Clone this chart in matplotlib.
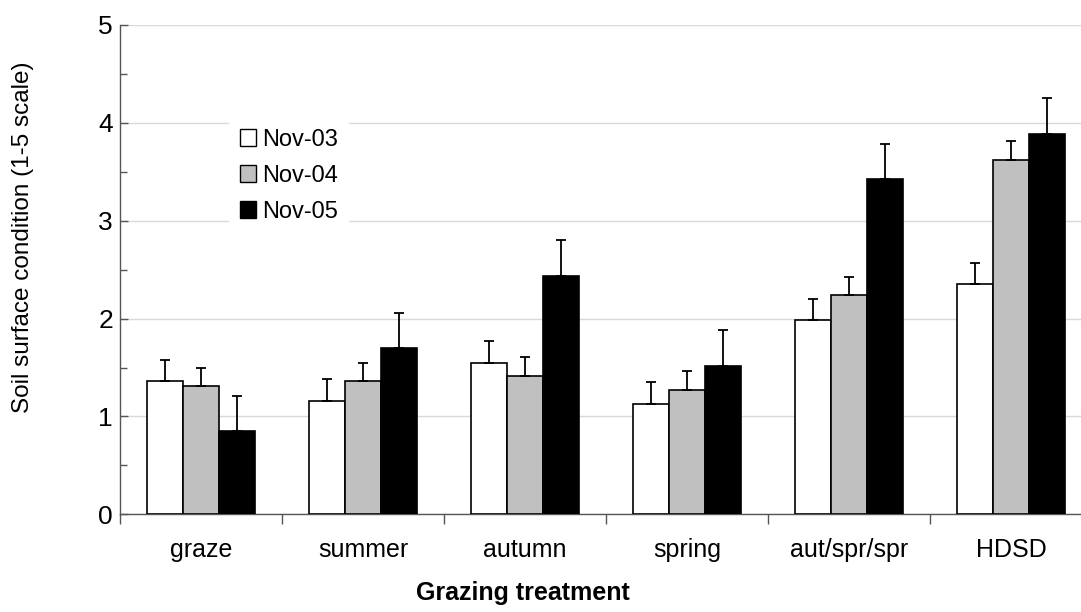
import matplotlib
matplotlib.use("Agg")
import matplotlib.pyplot as plt
import numpy as np
from matplotlib.ticker import MultipleLocator

plt.rcParams['font.family'] = ['Liberation Sans', 'DejaVu Sans']

treatments = ["graze", "summer", "autumn", "spring", "aut/spr/spr", "HDSD"]
series_names = ["Nov-03", "Nov-04", "Nov-05"]

nov03 = [1.36, 1.16, 1.55, 1.13, 1.99, 2.35]
nov03_se = [0.22, 0.22, 0.22, 0.22, 0.21, 0.22]
nov04 = [1.31, 1.36, 1.41, 1.27, 2.24, 3.62]
nov04_se = [0.19, 0.19, 0.20, 0.19, 0.19, 0.19]
nov05 = [0.85, 1.70, 2.44, 1.52, 3.43, 3.89]
nov05_se = [0.36, 0.36, 0.36, 0.36, 0.35, 0.36]

W, H = 1081, 612
fig = plt.figure(figsize=(W / 100, H / 100), dpi=100)
ax_left, ax_bottom_px, ax_top_px, ax_w = 120, 514.3, 25, 972
ax = fig.add_axes([ax_left / W, 1 - ax_bottom_px / H, ax_w / W, (ax_bottom_px - ax_top_px) / H])

x = np.arange(len(treatments))
bw = 1 / 4.5
fills = ["white", "#c0c0c0", "black"]
values = [nov03, nov04, nov05]
errors = [nov03_se, nov04_se, nov05_se]

handles = []
for k, (vals, errs, fc, name) in enumerate(zip(values, errors, fills, series_names)):
    pos = x + (k - 1) * bw
    b = ax.bar(pos, vals, width=bw, color=fc, edgecolor="black", linewidth=1.2,
               label=name, zorder=3)
    ax.errorbar(pos, vals, yerr=[np.zeros(len(errs)), errs], fmt="none",
                ecolor="black", elinewidth=1.3, capsize=3.3, capthick=1.3, zorder=4)
    handles.append(b)

ax.set_xlim(-0.5, len(treatments) - 0.5)
ax.set_ylim(0, 5)

ax.yaxis.set_major_locator(MultipleLocator(1))
ax.yaxis.set_minor_locator(MultipleLocator(0.5))
ax.grid(axis="y", which="major", color="#d9d9d9", linewidth=1.0, zorder=0)
ax.set_axisbelow(True)

ax.set_xticks(x)
ax.set_xticklabels(treatments, fontsize=18)
ax.tick_params(axis="x", which="major", length=0, pad=17)
ax.set_xticks(np.arange(len(treatments) + 1) - 0.5, minor=True)
ax.tick_params(axis="x", which="minor", direction="out", length=7, width=1.0, color="#555555")

ax.tick_params(axis="y", which="major", direction="in", length=6, width=1.0, color="#555555",
               labelsize=19, pad=5)
ax.tick_params(axis="y", which="minor", direction="in", length=5, width=1.0, color="#555555")

for s in ["top", "right"]:
    ax.spines[s].set_visible(False)
for s in ["left", "bottom"]:
    ax.spines[s].set_color("#555555")
    ax.spines[s].set_linewidth(1.0)

ax_h = ax_bottom_px - ax_top_px
ax.set_ylabel("Soil surface condition (1-5 scale)", fontsize=17.5)
ax.yaxis.set_label_coords((23 - ax_left) / ax_w, (ax_bottom_px - 237) / ax_h)
ax.yaxis.label.set_va("center")
ax.set_xlabel("Grazing treatment", fontsize=18, fontweight="bold")
ax.xaxis.set_label_coords((523 - ax_left) / ax_w, (ax_bottom_px - 581) / ax_h)

leg = fig.legend(handles=handles, labels=series_names, loc="upper left",
                 bbox_to_anchor=(229 / W, 1 - 118 / H), fontsize=17,
                 frameon=True, fancybox=False, edgecolor="none", facecolor="white",
                 framealpha=1, handlelength=0.7, handleheight=0.7,
                 handletextpad=0.25, labelspacing=0.6, borderpad=0.45, borderaxespad=0)
for h in leg.legend_handles:
    h.set_linewidth(1.0)

fig.savefig("out.png", dpi=100)
